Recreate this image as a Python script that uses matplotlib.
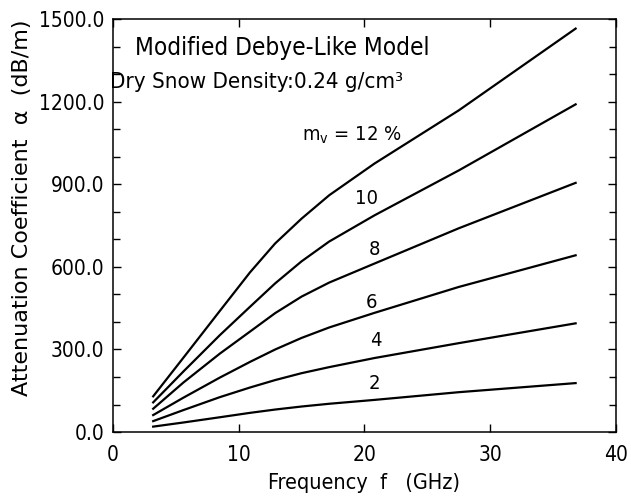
import matplotlib
matplotlib.use('Agg')
import matplotlib.pyplot as plt
from matplotlib.ticker import MultipleLocator

plt.rcParams['font.family'] = ['DejaVu Sans']
plt.rcParams['font.stretch'] = 'condensed'

# frequency (GHz) and attenuation (dB/m) for each liquid water content
freq = [3.2, 5.6, 8.5, 10.9, 12.9, 15.0, 17.2, 20.8, 27.5, 36.8]
mv12 = [130, 270, 440, 580, 685, 775, 860, 975, 1168, 1465]
mv10 = [108, 220, 352, 455, 540, 620, 692, 787, 950, 1190]
mv8 = [85, 180, 285, 365, 432, 492, 543, 612, 740, 905]
mv6 = [62, 125, 198, 255, 300, 342, 380, 433, 527, 642]
mv4 = [40, 80, 127, 162, 189, 214, 236, 269, 323, 395]
mv2 = [20, 35, 54, 70, 82, 93, 103, 117, 145, 178]

curves = [mv12, mv10, mv8, mv6, mv4, mv2]
labels = ['$\\mathrm{m_v}$ = 12 %', '10', '8', '6', '4', '2']
label_pos = [(19.0, 1077), (20.2, 849), (20.8, 662), (20.6, 472), (20.9, 334), (20.8, 178)]

fig = plt.figure(figsize=(6.31, 4.99), dpi=100)
ax = fig.add_axes([0.179, 0.134, 0.797, 0.828])

for c in curves:
    ax.plot(freq, c, color='black', lw=1.6)

for lab, (x, y) in zip(labels, label_pos):
    ax.text(x, y, lab, fontsize=14.5, ha='center', va='center')

ax.text(1.75, 1393, 'Modified Debye-Like Model', fontsize=17.5, va='center')
ax.text(-0.2, 1270, 'Dry Snow Density:0.24 g/cm\u00b3', fontsize=16, va='center')

ax.set_xlim(0, 40)
ax.set_ylim(0, 1500)
ax.xaxis.set_major_locator(MultipleLocator(10))
ax.yaxis.set_major_locator(MultipleLocator(300))
ax.yaxis.set_minor_locator(MultipleLocator(100))
ax.yaxis.set_major_formatter(plt.FormatStrFormatter('%.1f'))
ax.tick_params(direction='in', top=True, right=True, labelsize=15, length=6, width=1)
ax.tick_params(axis='x', pad=9)
ax.tick_params(axis='y', pad=6)
ax.tick_params(which='minor', direction='in', right=True, length=5, width=1)
for s in ax.spines.values():
    s.set_linewidth(1.1)

ax.set_xlabel('Frequency  f   (GHz)', fontsize=15.5, labelpad=6)
ax.set_ylabel('Attenuation Coefficient  \u03b1  (dB/m)', fontsize=16, fontstretch='normal')
ax.yaxis.set_label_coords(-0.161, 0.544)

fig.savefig('out.png', dpi=100)
